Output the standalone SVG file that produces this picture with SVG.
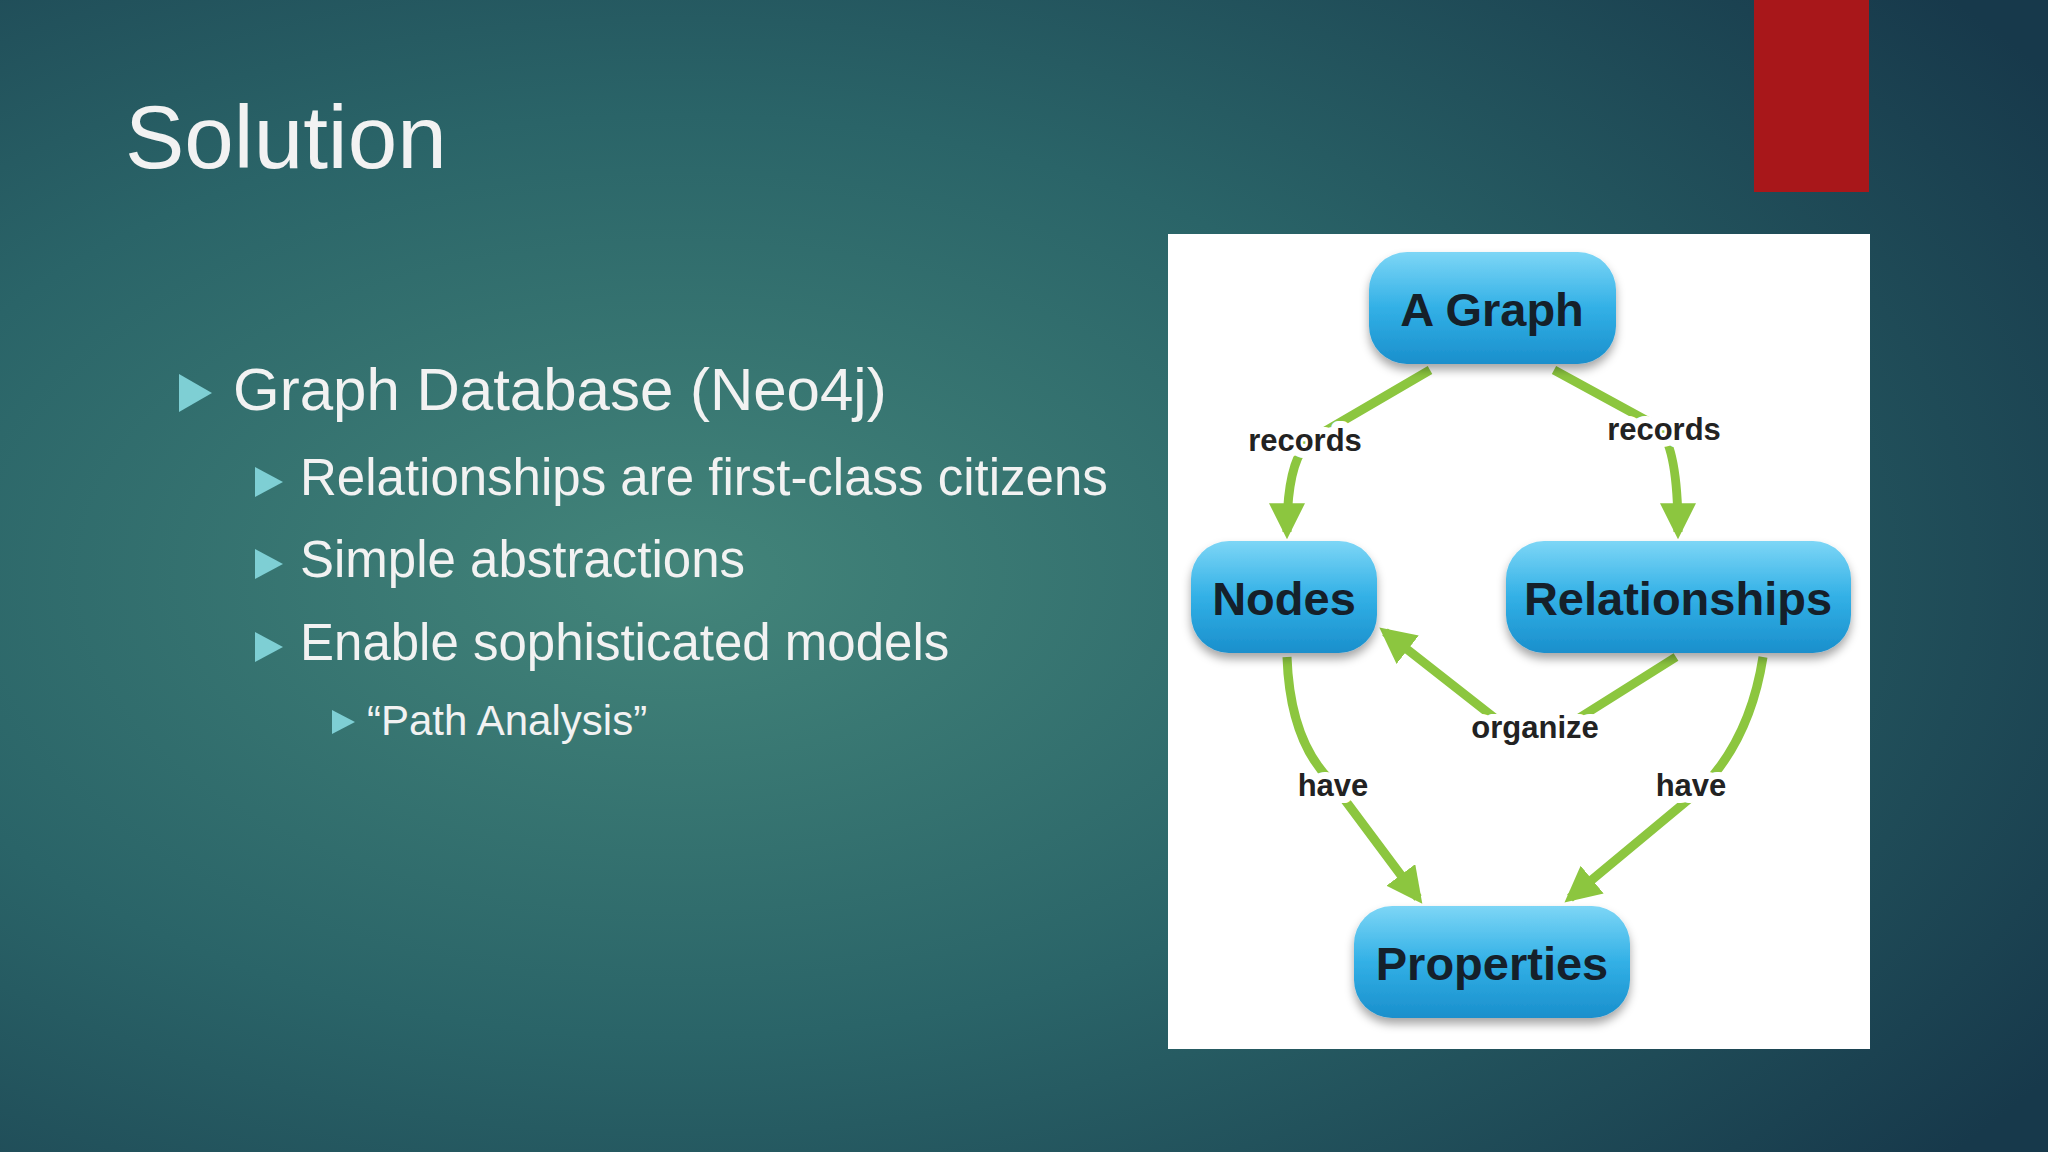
<svg xmlns="http://www.w3.org/2000/svg" width="2048" height="1152" viewBox="0 0 2048 1152">
<defs>
<radialGradient id="bg" cx="0.33" cy="0.5" r="0.8">
<stop offset="0" stop-color="#43857a"/>
<stop offset="0.5" stop-color="#2a6468"/>
<stop offset="1" stop-color="#17394b"/>
</radialGradient>
<linearGradient id="nb" x1="0" y1="0" x2="0" y2="1">
<stop offset="0" stop-color="#7dd6f6"/>
<stop offset="0.5" stop-color="#32b0e6"/>
<stop offset="1" stop-color="#1a8fcc"/>
</linearGradient>
<marker id="ah" viewBox="0 0 10 10" refX="8" refY="5" markerWidth="4" markerHeight="4" orient="auto">
<path d="M0,0 L10,5 L0,10 z" fill="#8cc63f"/>
</marker>
<filter id="sh" x="-20%" y="-20%" width="140%" height="150%"><feDropShadow dx="0" dy="6" stdDeviation="5" flood-color="#000" flood-opacity="0.35"/></filter>
</defs>
<style>
.t{font-family:"Liberation Sans",Arial,sans-serif;fill:#f2f2f2}
.bul{fill:#7ecfd4}
.n rect{fill:url(#nb);filter:url(#sh)}
.n text{font-family:"Liberation Sans",Arial,sans-serif;font-weight:bold;font-size:47px;fill:#15202a;text-anchor:middle}
.e{fill:none;stroke:#8cc63f;stroke-width:9;marker-end:url(#ah)}
.l{font-family:"Liberation Sans",Arial,sans-serif;font-weight:bold;font-size:31px;fill:#222;text-anchor:middle;stroke:#fff;stroke-width:14;stroke-linejoin:round;paint-order:stroke}
</style>
<rect width="2048" height="1152" fill="url(#bg)"/>
<rect x="1754" y="0" width="115" height="192" fill="#a8171a"/>
<text class="t" x="125" y="168" font-size="89">Solution</text>
<polygon class="bul" points="179,374 212,393 179,412"/>
<text class="t" x="233" y="410" font-size="60">Graph Database (Neo4j)</text>
<polygon class="bul" points="255,467 283,482 255,497"/>
<text class="t" x="300" y="495" font-size="51">Relationships are first-class citizens</text>
<polygon class="bul" points="255,549 283,564 255,579"/>
<text class="t" x="300" y="577" font-size="51">Simple abstractions</text>
<polygon class="bul" points="255,632 283,647 255,662"/>
<text class="t" x="300" y="660" font-size="51">Enable sophisticated models</text>
<polygon class="bul" points="332,710 355,722 332,734"/>
<text class="t" x="367" y="735" font-size="42">“Path Analysis”</text>
<rect x="1168" y="234" width="702" height="815" fill="#ffffff"/>
<g id="connectors">
<path class="e" d="M1430,370 L1310,440 Q1287,460 1287,532"/>
<path class="e" d="M1554,370 L1655,425 Q1678,440 1678,532"/>
<path class="e" d="M1676,657 L1560,730 Q1535,745 1510,730 L1385,632"/>
<path class="e" d="M1287,657 Q1290,740 1330,780 L1418,898"/>
<path class="e" d="M1763,657 Q1750,740 1700,790 L1570,898"/>
<text class="l" x="1305" y="451">records</text>
<text class="l" x="1664" y="440">records</text>
<text class="l" x="1535" y="738">organize</text>
<text class="l" x="1333" y="796">have</text>
<text class="l" x="1691" y="796">have</text>
</g>
<g id="n-graph" class="n"><rect x="1369" y="252" width="247" height="112" rx="38"/><text x="1492" y="326">A Graph</text></g>
<g id="n-nodes" class="n"><rect x="1191" y="541" width="186" height="112" rx="38"/><text x="1284" y="615">Nodes</text></g>
<g id="n-rel" class="n"><rect x="1506" y="541" width="345" height="112" rx="38"/><text x="1678" y="615">Relationships</text></g>
<g id="n-props" class="n"><rect x="1354" y="906" width="276" height="112" rx="38"/><text x="1492" y="980">Properties</text></g>
</svg>
